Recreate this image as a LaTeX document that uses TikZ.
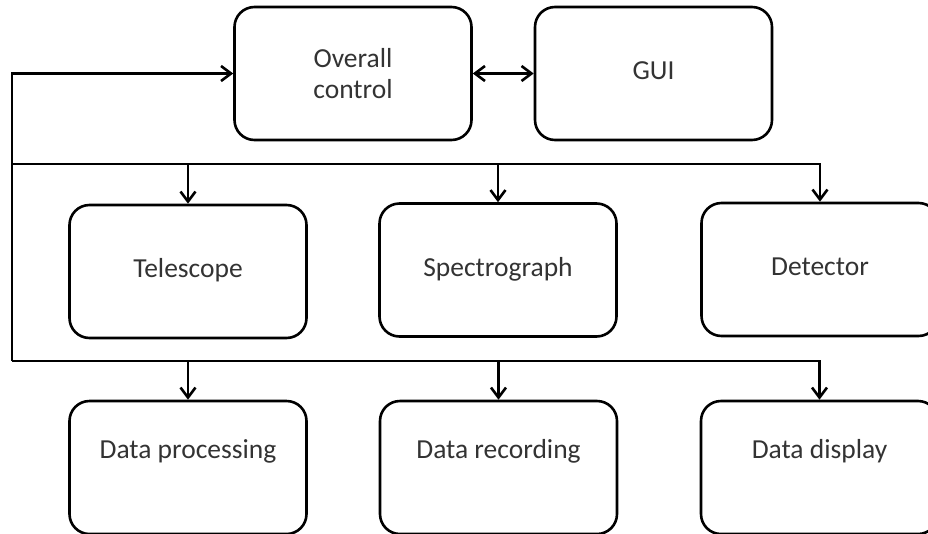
\documentclass[tikz,border=0pt]{standalone}
\usepackage{fontspec}
\setmainfont{Carlito}
\usetikzlibrary{arrows.meta}
\tikzset{
	blockbox/.style={draw, line width=2.6pt, rounded corners=20pt, minimum width=237pt, minimum height=133pt,
		align=center, text=black!80, font=\fontsize{27.5}{31}\selectfont},
	onebox/.style={blockbox, text height=18pt, text depth=6pt},
	lowbox/.style={blockbox, text height=18pt, text depth=36pt},
	wire/.style={line width=2.6pt},
	arr/.style={wire, -{Straight Barb[length=10pt, width=15pt, line width=2.6pt]}},
	twoarr/.style={wire, {Straight Barb[length=10pt, width=15pt, line width=2.6pt]}-{Straight Barb[length=10pt, width=15pt, line width=2.6pt]}}
}

\begin{document}
\begin{tikzpicture}[x=1pt, y=-1pt]
		%%%%% START %%%%%
		
		\useasboundingbox (0, 0) rectangle (928, 533);
		\clip (0, 0) rectangle (928, 533);
		
		\node[blockbox] (ctrl) at (353, 73.5) {Overall\\control};
		\node[onebox] (gui) at (653.5, 73.5) {GUI};
		
		\node[onebox] (tel) at (188, 271.5) {Telescope};
		\node[onebox] (spec) at (498, 270) {Spectrograph};
		\node[onebox] (det) at (820, 269.5) {Detector};
		
		\node[lowbox] (proc) at (188, 467.5) {Data processing};
		\node[lowbox] (rec) at (498.5, 467.5) {Data recording};
		\node[lowbox] (disp) at (819.5, 467.5) {Data display};
		
		\draw[twoarr] (ctrl.east) -- (gui.west);
		
		\coordinate (upbus) at (12, 164);
		\coordinate (lowbus) at (12, 361);
		
		\draw[arr] (lowbus) |- (ctrl.west);
		
		\draw[arr] (upbus) -| (det.north);
		\draw[arr] (upbus -| tel.north) -- (tel.north);
		\draw[arr] (upbus -| spec.north) -- (spec.north);
		
		\draw[arr] (lowbus) -| (disp.north);
		\draw[arr] (lowbus -| proc.north) -- (proc.north);
		\draw[arr] (lowbus -| rec.north) -- (rec.north);
		
		%%%%% END %%%%%
	\end{tikzpicture}
\end{document}
